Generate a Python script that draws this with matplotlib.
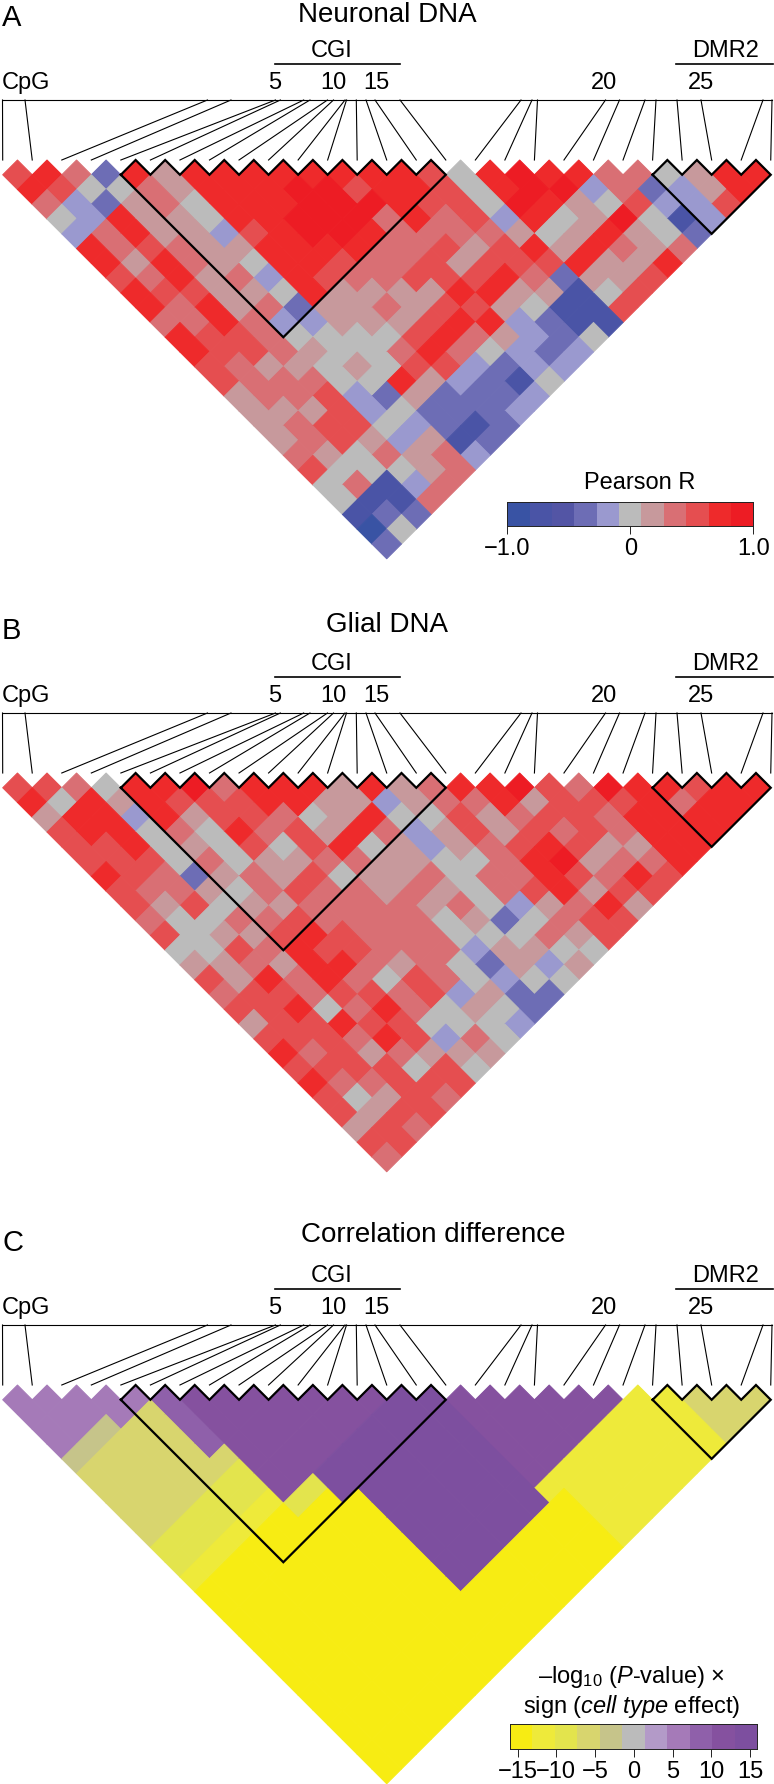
import matplotlib
matplotlib.use("Agg")
import matplotlib.pyplot as plt
import numpy as np
from matplotlib.collections import PolyCollection
from matplotlib.colors import ListedColormap, BoundaryNorm

plt.rcParams['font.family'] = ['Liberation Sans', 'DejaVu Sans']
plt.rcParams['mathtext.fontset'] = 'custom'
plt.rcParams['mathtext.rm'] = 'Liberation Sans'
plt.rcParams['mathtext.it'] = 'Liberation Sans:italic'

# colour bins, low to high
corr_colors = ['#3953a4', '#4a54a6', '#5355a5', '#6d6db5', '#9a99cf', '#bbbbbb',
               '#c7999c', '#d96f74', '#e54e50', '#ee2a2b', '#ed1c24']
diff_colors = ['#f7ec13', '#eeea3a', '#e3e44d', '#d8d56e', '#c6c48a', '#bbbbbb',
               '#b39ac8', '#a57ab8', '#8f60aa', '#85519f', '#7d4f9f']

# each row = one distance between CpGs, values are colour bin numbers
neuronal_rows = [
    [8,9,7,3,9,6,9,9,9,9,9,9,9,9,8,5,9,10,9,9,7,7,5,6,9,9],
    [9,8,5,5,7,6,9,9,9,10,10,8,9,9,8,5,9,10,10,4,7,3,4,6,9],
    [7,4,3,6,7,5,9,9,9,10,10,10,9,8,8,5,10,9,6,5,8,4,4,8],
    [5,4,9,6,6,5,9,9,10,10,10,7,9,7,8,4,9,5,6,10,5,1,4],
    [4,7,9,6,6,4,8,9,10,10,9,7,7,7,7,6,5,6,9,6,5,3],
    [9,7,8,7,6,6,9,9,9,9,7,7,8,6,8,9,6,9,7,6,7],
    [9,6,9,7,6,5,9,9,8,7,7,8,6,8,8,8,9,6,6,9],
    [8,7,9,6,7,4,9,8,7,7,8,8,8,9,7,3,6,6,8],
    [9,8,8,6,6,5,9,6,6,6,6,9,9,6,6,1,5,8],
    [9,7,9,6,7,3,6,6,7,6,8,8,6,5,1,1,8],
    [7,7,9,7,4,4,6,6,6,8,9,9,4,3,1,1],
    [9,8,8,7,5,5,5,5,8,9,7,6,4,3,5],
    [9,8,8,7,6,5,5,7,9,7,5,4,3,4],
    [8,7,6,6,5,6,5,8,8,4,3,4,4],
    [8,7,7,7,5,5,9,6,4,3,1,5],
    [6,7,7,8,4,3,6,3,3,3,4],
    [6,6,6,8,4,5,3,3,3,4],
    [6,7,8,8,5,4,3,1,3],
    [6,7,8,6,4,6,1,3],
    [7,6,5,7,6,7,4],
    [8,5,5,5,6,7],
    [5,7,1,4,7],
    [5,1,1,7],
    [1,3,3],
    [0,5],
    [3],
]
glial_rows = [
    [8,8,7,5,9,9,10,7,9,9,9,6,9,6,7,9,9,10,8,7,10,9,9,8,9,9],
    [9,5,9,6,9,8,8,8,9,9,6,6,4,6,7,7,9,6,8,8,8,9,7,9,9],
    [6,9,9,4,9,6,8,8,7,5,6,9,5,5,8,6,7,8,8,7,9,9,9,9],
    [8,9,9,5,7,5,9,7,8,6,9,7,4,6,8,6,8,7,8,7,9,9,9],
    [8,8,9,5,6,5,8,5,8,9,5,6,4,6,7,8,9,8,6,6,9,9],
    [8,8,8,5,7,5,6,6,7,7,6,6,5,5,7,9,10,6,7,7,9],
    [9,8,7,3,6,7,6,8,5,6,6,7,5,7,7,9,8,7,9,8],
    [8,7,7,6,5,7,8,7,7,6,7,6,5,7,8,9,6,8,8],
    [8,6,8,5,6,6,7,7,7,7,6,7,5,4,6,7,9,6],
    [7,5,5,7,7,8,7,7,7,7,5,6,3,5,7,8,8],
    [8,5,6,6,8,9,8,7,7,7,5,5,5,7,6,8],
    [5,5,8,7,9,8,8,7,7,7,4,6,6,5,5],
    [6,6,7,6,9,9,7,6,7,5,3,6,4,6],
    [8,6,9,7,9,7,5,8,7,5,4,5,5],
    [7,8,8,7,8,8,7,8,4,6,3,3],
    [8,8,9,5,7,9,7,5,6,5,3],
    [6,8,8,9,8,8,5,5,5,4],
    [8,8,8,7,9,8,4,7,5],
    [9,7,8,6,7,6,6,6],
    [8,8,8,8,5,8,5],
    [9,7,7,8,8,8],
    [8,5,6,8,7],
    [8,6,8,8],
    [6,8,7],
    [8,8],
    [7],
]
diff_rows = [
    [7,7,7,7,7,8,9,9,9,9,9,9,9,10,10,9,9,9,9,9,9,1,1,3,3,3],
    [7,7,7,7,3,8,9,9,9,9,9,9,10,10,10,9,9,9,9,9,1,1,1,3,3],
    [7,7,4,3,3,8,9,9,9,9,9,10,10,10,10,9,9,9,9,1,1,1,1,3],
    [7,4,3,3,3,8,9,9,9,9,10,10,10,10,10,9,9,9,1,1,1,1,1],
    [4,3,3,3,3,3,9,9,9,10,10,10,10,10,10,9,9,1,1,1,1,1],
    [3,3,3,3,3,2,9,9,10,10,10,10,10,10,10,9,1,1,1,1,1],
    [3,3,3,3,2,2,9,2,10,10,10,10,10,10,10,1,1,1,1,1],
    [3,3,3,2,2,1,2,0,0,10,10,10,10,10,10,0,1,1,1],
    [3,3,2,2,1,0,0,0,0,10,10,10,10,10,0,0,1,1],
    [3,2,2,1,0,0,0,0,0,10,10,10,10,0,0,0,1],
    [2,2,1,0,0,0,0,0,0,10,10,10,0,0,0,0],
    [2,1,0,0,0,0,0,0,0,10,10,0,0,0,0],
    [1,0,0,0,0,0,0,0,0,10,0,0,0,0],
    [0,0,0,0,0,0,0,0,0,0,0,0,0],
    [0,0,0,0,0,0,0,0,0,0,0,0],
    [0,0,0,0,0,0,0,0,0,0,0],
    [0,0,0,0,0,0,0,0,0,0],
    [0,0,0,0,0,0,0,0,0],
    [0,0,0,0,0,0,0,0],
    [0,0,0,0,0,0,0],
    [0,0,0,0,0,0],
    [0,0,0,0,0],
    [0,0,0,0],
    [0,0,0],
    [0,0],
    [0],
]

# where each CpG sits on the top scale (pixels along the frame)
cpg_positions = [2.5, 25, 207.5, 231, 275.5, 280.4, 303.7, 310, 327.5, 333.5, 345, 346.5, 356.3,
                 366, 375, 400, 521, 532, 537.5, 605.5, 619.5, 645, 656, 677, 701, 763, 772]
number_labels = {5: 275, 10: 333, 15: 376, 20: 604, 25: 701}

corr_ticks = [-1, 0, 1]
corr_ticklabels = ['\u22121.0', '0', '1.0']
diff_ticks = [-15, -10, -5, 0, 5, 10, 15]
diff_ticklabels = ['\u221215', '\u221210', '\u22125', '0', '5', '10', '15']

W, H = 774, 1784
step = 29.54
left = 2.7
fs = 17

fig = plt.figure(figsize=(W / 100, H / 100), dpi=100)
ax = fig.add_axes([0, 0, 1, 1])
ax.set_xlim(0, W)
ax.set_ylim(H, 0)
ax.axis('off')


def outline(k0, k1, top):
    # black bracket round the triangle of top row diamonds k0..k1
    xs = [left + step * k0]
    ys = [top + step / 2]
    for k in range(k0, k1 + 1):
        xs += [left + step * (k + .5), left + step * (k + 1)]
        ys += [top, top + step / 2]
    n = k1 - k0 + 1
    xs += [left + step * (k0 + n / 2), xs[0]]
    ys += [top + step / 2 + step * n / 2, ys[0]]
    return xs, ys


def panel(top, rows, colors, title, letter, title_x, title_up):
    cmap = ListedColormap(colors)
    norm = BoundaryNorm(np.arange(-.5, 11.5), 11)
    polys, vals = [], []
    for r, row in enumerate(rows):
        for k, v in enumerate(row):
            cx = left + step * (k + .5 + r / 2)
            cy = top + step / 2 * (1 + r)
            polys.append([(cx - step / 2, cy), (cx, cy - step / 2), (cx + step / 2, cy), (cx, cy + step / 2)])
            vals.append(v)
    pc = PolyCollection(polys, array=np.array(vals), cmap=cmap, norm=norm, edgecolors='face', linewidths=.7)
    ax.add_collection(pc)

    for k0, k1 in [(4, 14), (22, 25)]:
        xs, ys = outline(k0, k1, top)
        ax.plot(xs, ys, color='k', lw=1.6, solid_joinstyle='miter')

    # frame and leader lines
    frame = top - 60
    ax.plot([cpg_positions[0], cpg_positions[-1]], [frame, frame], color='k', lw=.8)
    for m, p in enumerate(cpg_positions):
        ax.plot([p, left + step * m], [frame, top], color='k', lw=.8)

    ax.text(2, frame - 74, letter, fontsize=21, ha='left', va='baseline')
    ax.text(title_x, frame - title_up, title, fontsize=20, ha='center', va='baseline')
    ax.text(332, frame - 43.3, 'CGI', fontsize=fs, ha='center', va='baseline')
    ax.text(725.6, frame - 43.3, 'DMR2', fontsize=fs, ha='center', va='baseline')
    ax.plot([275.4, 400], [frame - 36, frame - 36], color='k', lw=1.2)
    ax.plot([676, 773], [frame - 36, frame - 36], color='k', lw=1.2)
    ax.text(2, frame - 10.7, 'CpG', fontsize=fs, ha='left', va='baseline')
    for num, x in number_labels.items():
        ax.text(x, frame - 10.7, str(num), fontsize=fs, ha='center', va='baseline')


def colorbar(x0, x1, y0, y1, vmin, vmax, colors, ticks, labels):
    cax = fig.add_axes([x0 / W, 1 - y1 / H, (x1 - x0) / W, (y1 - y0) / H])
    edges = np.linspace(vmin, vmax, 12)
    cax.pcolormesh(edges, [0, 1], np.arange(11).reshape(1, -1), cmap=ListedColormap(colors),
                   vmin=-.5, vmax=10.5)
    cax.set_yticks([])
    cax.set_xticks(ticks)
    cax.set_xticklabels(labels, fontsize=fs)
    cax.tick_params(axis='x', length=5.8, width=.7, pad=3, colors='#222222', labelcolor='k')
    for s in cax.spines.values():
        s.set_linewidth(.7)
        s.set_color('#222222')


panel(160, neuronal_rows, corr_colors, 'Neuronal DNA', 'A', 387, 78.3)
panel(773, glial_rows, corr_colors, 'Glial DNA', 'B', 387, 81)
panel(1385, diff_rows, diff_colors, 'Correlation difference', 'C', 433, 83)

ax.text(640, 489.3, 'Pearson R', fontsize=fs, ha='center', va='baseline')
colorbar(507.3, 753.3, 501.7, 526, -1, 1, corr_colors, corr_ticks, corr_ticklabels)

ax.text(632, 1683, '\u2013log$_{10}$ ($\\mathit{P}$-value) \u00d7', fontsize=fs, ha='center', va='baseline')
ax.text(632, 1712.7, 'sign ($\\mathit{cell\\ type}$ effect)', fontsize=fs, ha='center', va='baseline')
colorbar(510, 757, 1724.3, 1749, -15.97, 15.9, diff_colors, diff_ticks, diff_ticklabels)

fig.savefig('out.png', dpi=100)
